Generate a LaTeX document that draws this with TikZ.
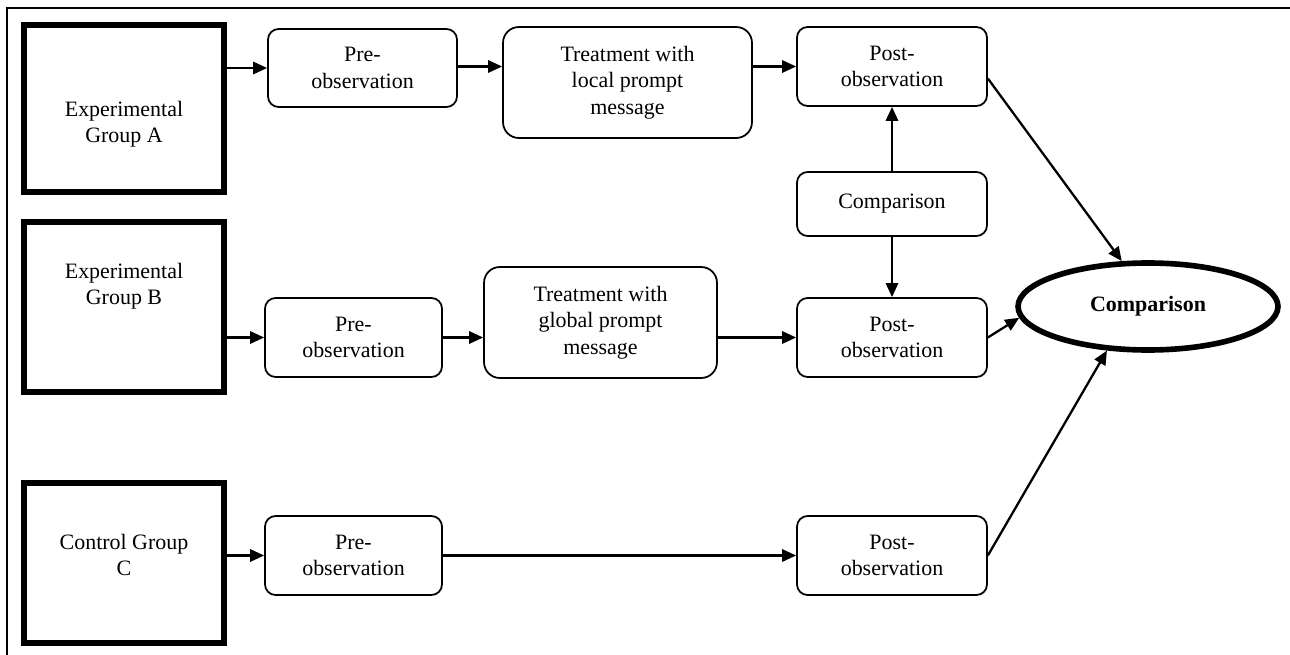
\documentclass[tikz,border=0pt]{standalone}
\usepackage{fontspec}
\setmainfont{Liberation Serif}
\usetikzlibrary{arrows.meta,shapes.geometric}

\begin{document}
\begin{tikzpicture}[x=0.02cm, y=-0.02cm, font=\fontsize{12.5}{15}\selectfont,
  group/.style={draw, line width=3pt, minimum width=4cm},
  stagebox/.style={draw, line width=1pt, rounded corners=6pt, align=center, inner sep=1pt},
  treatbox/.style={stagebox, rounded corners=9pt, minimum height=2.22cm},
  link/.style={line width=1.3pt, -{Triangle[length=8pt,width=7pt]}}]
\useasboundingbox (0,0) rectangle (1290,655);
\draw[line width=1.2pt] (1290,8) -- (7,8) -- (7,655);
% groups
\node[group, minimum height=3.34cm, label={[align=center, yshift=-0.32cm]center:{Experimental\\Group A}}] (gA) at (124,108.5) {};
\node[group, minimum height=3.4cm, label={[align=center, yshift=0.42cm]center:{Experimental\\Group B}}] (gB) at (124,307) {};
\node[group, minimum height=3.2cm, label={[align=center, yshift=0.16cm]center:{Control Group\\C}}] (gC) at (124,563) {};
% row A
\node[stagebox, minimum width=3.78cm, minimum height=1.56cm] (preA) at (362.5,68) {Pre-\\observation};
\node[treatbox, minimum width=4.98cm] (treatA) at (627.5,82.5) {Treatment with\\local prompt\\message};
\node[stagebox, minimum width=3.8cm, minimum height=1.58cm] (postA) at (892,66.5) {Post-\\observation};
\node[stagebox, minimum width=3.8cm, minimum height=1.28cm] (cmpAB) at (892,204) {Comparison};
% row B
\node[stagebox, minimum width=3.54cm, minimum height=1.58cm] (preB) at (353.5,337.5) {Pre-\\observation};
\node[treatbox, minimum width=4.66cm] (treatB) at (600.5,322.5) {Treatment with\\global prompt\\message};
\node[stagebox, minimum width=3.8cm, minimum height=1.58cm] (postB) at (892,337.5) {Post-\\observation};
% row C
\node[stagebox, minimum width=3.54cm, minimum height=1.58cm] (preC) at (353.5,555.5) {Pre-\\observation};
\node[stagebox, minimum width=3.8cm, minimum height=1.58cm] (postC) at (892,555.5) {Post-\\observation};
\node[ellipse, draw, line width=3.2pt, minimum width=5.2cm, minimum height=1.74cm, font=\fontsize{12.5}{15}\selectfont\bfseries] (cmp) at (1148,306.5) {Comparison};
% connectors
\draw[link] (gA.east |- preA.west) -- (preA.west);
\draw[link] (preA.east |- postA.west) -- (treatA.west |- postA.west);
\draw[link] (treatA.east |- postA.west) -- (postA.west);
\draw[link] (gB.east |- preB.west) -- (preB.west);
\draw[link] (preB.east) -- (treatB.west |- preB.east);
\draw[link] (treatB.east |- postB.west) -- (postB.west);
\draw[link] (gC.east |- preC.west) -- (preC.west);
\draw[link] (preC.east) -- (postC.west);
\draw[link] (cmpAB.north) -- (postA.south);
\draw[link] (cmpAB.south) -- (postB.north);
\draw[link] ([yshift=-0.24cm]postA.east) -- (cmp.120);
\draw[link] (postB.east) -- (cmp.185);
\draw[link] (postC.east) -- (cmp.227);
\end{tikzpicture}
\end{document}
